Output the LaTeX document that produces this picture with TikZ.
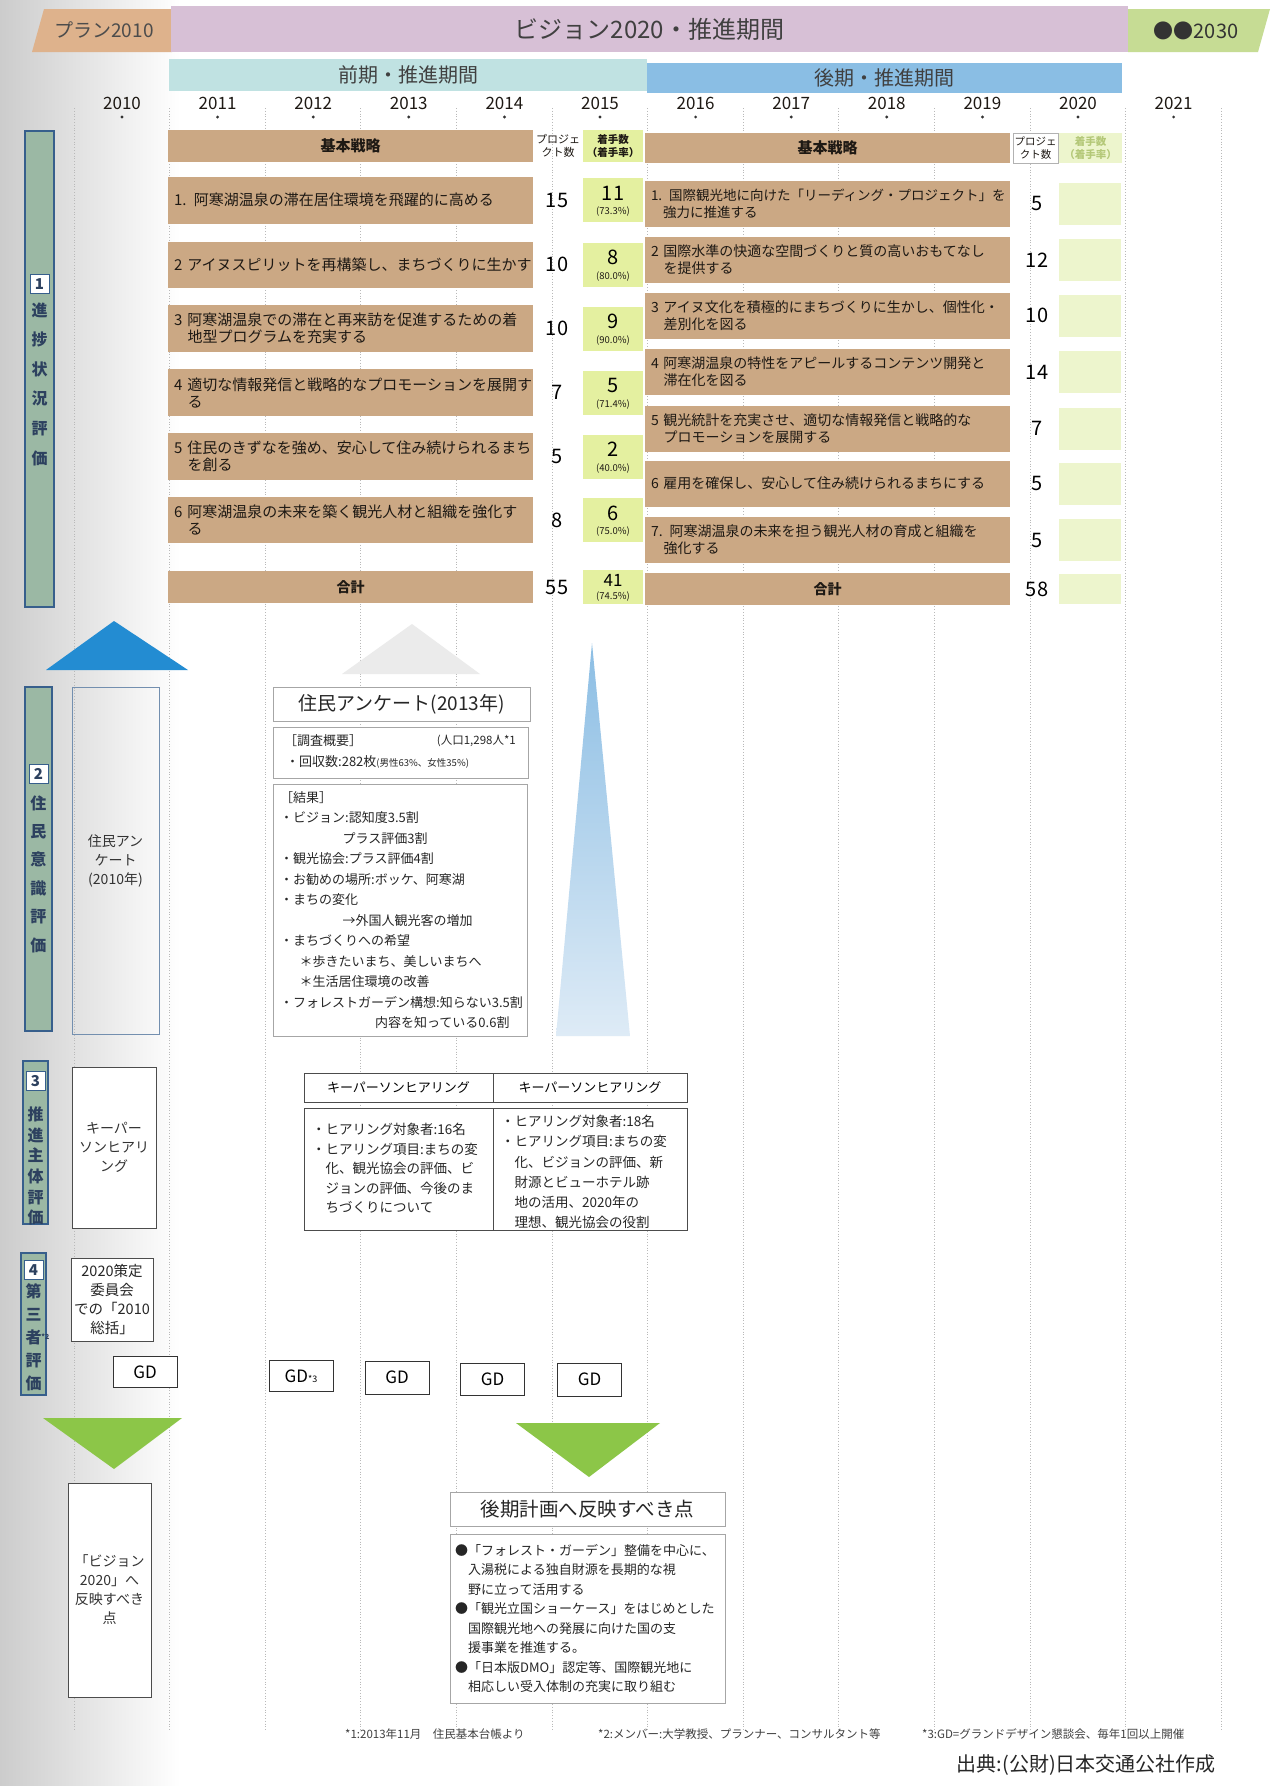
\documentclass[tikz,border=0pt]{standalone}
\usepackage{fontspec}
\setmainfont{Noto Sans CJK JP}
\newcommand\fsz[2]{\fontsize{#1}{#2}\selectfont}
\definecolor{tanc}{RGB}{203,168,132}
\definecolor{lgc}{RGB}{228,240,160}
\definecolor{lgc2}{RGB}{237,245,205}
\definecolor{fgc}{RGB}{180,200,120}
\definecolor{hdrorange}{RGB}{222,178,140}
\definecolor{hdrpink}{RGB}{215,192,214}
\definecolor{hdrgreen}{RGB}{198,220,148}
\definecolor{tealc}{RGB}{192,226,226}
\definecolor{bluec}{RGB}{138,190,228}
\definecolor{lblfill}{RGB}{155,184,164}
\definecolor{lblborder}{RGB}{55,95,140}
\definecolor{lbltext}{RGB}{45,65,95}
\definecolor{tribl}{RGB}{35,140,210}
\definecolor{trigr}{RGB}{140,198,72}
\definecolor{txtc}{RGB}{30,25,20}
\definecolor{spiketop}{RGB}{140,190,228}
\definecolor{spikebot}{RGB}{222,235,246}
\begin{document}
\begin{tikzpicture}[x=1pt,y=-1pt,
  tanbox/.style={fill=tanc, inner xsep=6pt, inner ysep=0pt, minimum width=365pt, text width=353pt, align=left, font=\fsz{15}{17}, text=txtc},
  tanboxR/.style={tanbox, font=\fsz{14}{17}},
  tanhead/.style={fill=tanc, minimum width=365pt, inner sep=0pt, font=\bfseries\fsz{15}{15}, text=txtc},
  grcell/.style={fill=lgc, minimum width=60pt, minimum height=44pt, inner sep=0pt},
  grcellR/.style={fill=lgc2, minimum width=62pt, minimum height=42pt, inner sep=0pt},
  bignum/.style={font=\fsz{20}{20}, text=black, inner sep=0pt},
  pct/.style={font=\fsz{9.5}{10}, text=txtc, inner sep=0pt},
  yearlbl/.style={font=\fsz{17}{17}, text=txtc, inner sep=0pt},
  vline/.style={gray!55, dotted, line width=0.8pt},
  lblbox/.style={fill=lblfill, draw=lblborder, line width=1.2pt, inner sep=0pt},
  lblnum/.style={fill=white, draw=lblborder, line width=1pt, minimum size=19pt, inner sep=0pt, font=\bfseries\fsz{15}{15}, text=lbltext},
  lbltxt/.style={align=center, font=\bfseries\fsz{16}{#1}, text=lbltext, inner sep=0pt},
  wbox/.style={draw=gray!70, fill=white, line width=0.8pt, inner sep=0pt},
  kbox/.style={draw=black!70, fill=white, line width=0.9pt, inner sep=0pt},
  gdbox/.style={draw=black!80, fill=white, line width=1pt, minimum width=64pt, minimum height=31pt, font=\fsz{17}{17}, inner sep=0pt},
  bodytxt/.style={align=left, inner sep=0pt, anchor=north west, text=black!85},
  foot/.style={font=\fsz{11.5}{11.5}, text=black!75, inner sep=0pt, anchor=west}
]
\useasboundingbox (0,0) rectangle (1272,1786);
\fill[white] (0,0) rectangle (1272,1786);
\shade[left color=gray!40, right color=white] (0,0) rectangle (180,1786);

% vertical dotted grid
\foreach \k in {0,...,12} \draw[vline] ({74+95.6*\k},108) -- ({74+95.6*\k},1730);

% header bands
\fill[hdrorange] (44,9) -- (172,9) -- (172,52) -- (32,52) -- cycle;
\node[font=\fsz{19}{19}, text=black!70, inner sep=0pt] (plan) at (104,30) {プラン2010};
\node[fill=hdrpink, minimum width=957pt, minimum height=46pt, inner sep=0pt, font=\fsz{24}{24}, text=black!75] (vision) at (649.5,29) {ビジョン2020・推進期間};
\fill[hdrgreen] (1128,9) -- (1270,9) -- (1258,52) -- (1128,52) -- cycle;
\node[font=\fsz{20}{20}, text=black!80, inner sep=0pt] (v2030) at (1196,31) {●●2030};

\node[fill=tealc, minimum width=478pt, minimum height=32pt, inner sep=0pt, font=\fsz{20}{20}, text=black!75] (zenki) at (408,75) {前期・推進期間};
\node[fill=bluec, minimum width=475pt, minimum height=30pt, inner sep=0pt, font=\fsz{20}{20}, text=black!75] (kouki) at (884.5,78) {後期・推進期間};

% years
\foreach \yr [count=\k from 0] in {2010,...,2021} {
  \node[yearlbl] (y\yr) at ({122+95.6*\k},103) {\yr};
  \fill[black!80] ({122+95.6*\k},117) circle (1.6);
}

% ===== left table =====
\node[tanhead, minimum height=32pt] (Lh) at (350.5,146) {基本戦略};
\node[font=\fsz{11}{13}, align=center, inner sep=0pt, text=txtc] (Lhp) at (558,146) {プロジェ\\クト数};
\node[grcell, minimum height=32pt, align=center, font=\bfseries\fsz{10.5}{13}, text=txtc] (Lhg) at (613,146) {着手数\\（着手率）};

\node[tanbox, minimum height=47pt] (L1) at (350.5,200) {1. 阿寒湖温泉の滞在居住環境を飛躍的に高める};
\node[tanbox, minimum height=46pt] (L2) at (350.5,264.5) {2 アイヌスピリットを再構築し、まちづくりに生かす};
\node[tanbox, minimum height=47pt] (L3) at (350.5,328.5) {3 阿寒湖温泉での滞在と再来訪を促進するための着\\\hspace*{0.9em}地型プログラムを充実する};
\node[tanbox, minimum height=47pt] (L4) at (350.5,392.5) {4 適切な情報発信と戦略的なプロモーションを展開す\\\hspace*{0.9em}る};
\node[tanbox, minimum height=47pt] (L5) at (350.5,456.5) {5 住民のきずなを強め、安心して住み続けられるまち\\\hspace*{0.9em}を創る};
\node[tanbox, minimum height=46pt] (L6) at (350.5,520) {6 阿寒湖温泉の未来を築く観光人材と組織を強化す\\\hspace*{0.9em}る};
\node[tanhead, minimum height=32pt, font=\bfseries\fsz{14}{14}] (Lt) at (350.5,587) {合計};

\foreach \i/\y/\n/\a/\p in {1/200/15/11/73.3, 2/264.5/10/8/80.0, 3/328.5/10/9/90.0, 4/392.5/7/5/71.4, 5/456.5/5/2/40.0, 6/520/8/6/75.0} {
  \node[bignum] (L\i n) at (557,\y) {\n};
  \node[grcell] (L\i g) at (613,\y) {};
  \node[bignum] (L\i a) at (613,\y-7) {\a};
  \node[pct] (L\i p) at (613,\y+12) {(\p\%)};
}
\node[bignum] (Ltn) at (557,587) {55};
\node[grcell, minimum height=34pt] (Ltg) at (613,587) {};
\node[bignum, font=\fsz{17}{17}] (Lta) at (613,580) {41};
\node[pct] (Ltp) at (613,597) {(74.5\%)};

% ===== right table =====
\node[tanhead, minimum height=30pt] (Rh) at (827.5,148) {基本戦略};
\node[draw=gray!60, fill=white, minimum width=45pt, minimum height=30pt, font=\fsz{10.5}{12.5}, align=center, inner sep=0pt, text=txtc] (Rhp) at (1035.5,148) {プロジェ\\クト数};
\node[fill=lgc2, minimum width=63pt, minimum height=30pt, align=center, font=\bfseries\fsz{10.5}{12.5}, text=fgc, inner sep=0pt] (Rhg) at (1090.5,148) {着手数\\（着手率）};

\node[tanboxR, minimum height=46pt, font=\fsz{13.5}{17}] (R1) at (827.5,203.5) {1. 国際観光地に向けた「リーディング・プロジェクト」を\\\hspace*{0.9em}強力に推進する};
\node[tanboxR, minimum height=46pt] (R2) at (827.5,260) {2 国際水準の快適な空間づくりと質の高いおもてなし\\\hspace*{0.9em}を提供する};
\node[tanboxR, minimum height=46pt] (R3) at (827.5,315.5) {3 アイヌ文化を積極的にまちづくりに生かし、個性化・\\\hspace*{0.9em}差別化を図る};
\node[tanboxR, minimum height=46pt] (R4) at (827.5,372) {4 阿寒湖温泉の特性をアピールするコンテンツ開発と\\\hspace*{0.9em}滞在化を図る};
\node[tanboxR, minimum height=46pt] (R5) at (827.5,428.5) {5 観光統計を充実させ、適切な情報発信と戦略的な\\\hspace*{0.9em}プロモーションを展開する};
\node[tanboxR, minimum height=46pt] (R6) at (827.5,483.5) {6 雇用を確保し、安心して住み続けられるまちにする};
\node[tanboxR, minimum height=46pt] (R7) at (827.5,540) {7. 阿寒湖温泉の未来を担う観光人材の育成と組織を\\\hspace*{0.9em}強化する};
\node[tanhead, minimum height=32pt, font=\bfseries\fsz{14}{14}] (Rt) at (827.5,589) {合計};

\foreach \i/\y/\n in {1/203.5/5, 2/260/12, 3/315.5/10, 4/372/14, 5/428.5/7, 6/483.5/5, 7/540/5} {
  \node[bignum] (R\i n) at (1037,\y) {\n};
  \node[grcellR] (R\i g) at (1090,\y) {};
}
\node[bignum] (Rtn) at (1037,589) {58};
\node[grcellR, minimum height=30pt] (Rtg) at (1090,589) {};

% ===== left category labels =====
\node[lblbox, minimum width=29pt, minimum height=476pt] (c1) at (39.5,369) {};
\node[lblnum] (c1n) at (39.5,284) {1};
\node[lbltxt=29.6] (c1t) at (39.5,384) {進\\捗\\状\\況\\評\\価};

\node[lblbox, minimum width=27pt, minimum height=344pt] (c2) at (38.5,859) {};
\node[lblnum] (c2n) at (38.5,774) {2};
\node[lbltxt=28.4] (c2t) at (38.5,874) {住\\民\\意\\識\\評\\価};

\node[lblbox, minimum width=25pt, minimum height=163pt] (c3) at (35.5,1142.5) {};
\node[lblnum] (c3n) at (35.5,1081) {3};
\node[lbltxt=20.6] (c3t) at (35.5,1166) {推\\進\\主\\体\\評\\価};

\node[lblbox, minimum width=25pt, minimum height=142pt] (c4) at (33.5,1324) {};
\node[lblnum] (c4n) at (33.5,1270) {4};
\node[lbltxt=23] (c4t) at (33.5,1337) {第\\三\\者\rlap{\raisebox{4pt}{\fsz{7}{7}*2}}\\評\\価};

% blue up arrow head
\fill[tribl] (46,670) -- (188,670) -- (114,621) -- cycle;

% faded gray shape above survey
\fill[gray!16] (342,674) -- (412,624) -- (480,674) -- cycle;

% blue spike
\shade[top color=spiketop, bottom color=spikebot] (592,643) -- (630,1036) -- (556,1036) -- cycle;

% ===== 2010 column boxes =====
\node[draw=lblborder!70, line width=1pt, minimum width=87pt, minimum height=347pt, inner sep=0pt, align=center, font=\fsz{14}{19}, text=black!80] (a2010) at (115.5,860.5) {住民アン\\ケート\\(2010年)};
\node[kbox, minimum width=84pt, minimum height=161pt, align=center, font=\fsz{14}{19}, text=black!80] (k2010) at (114,1147.5) {キーパー\\ソンヒアリ\\ング};
\node[kbox, minimum width=82pt, minimum height=83pt, align=center, font=\fsz{14.5}{19}, text=black!85] (s2010) at (112,1299.5) {2020策定\\委員会\\での「2010\\総括」};
\node[kbox, minimum width=83pt, minimum height=214pt, align=center, font=\fsz{14}{19}, text=black!80] (r2010) at (109.5,1590) {「ビジョン\\2020」へ\\反映すべき\\点};

% GD boxes
\node[gdbox] (gd1) at (145,1372) {GD};
\node[gdbox] (gd2) at (301,1376) {GD{\fsz{9}{9}*3}};
\node[gdbox, minimum height=33pt] (gd3) at (397,1377.5) {GD};
\node[gdbox, minimum height=32pt] (gd4) at (492.5,1379) {GD};
\node[gdbox, minimum height=33pt] (gd5) at (589.5,1379.5) {GD};

% green down arrow heads
\fill[trigr] (43,1418) -- (182,1418) -- (114,1469) -- cycle;
\fill[trigr] (516,1423) -- (660,1423) -- (589,1477) -- cycle;

% ===== survey 2013 =====
\node[wbox, minimum width=257pt, minimum height=34pt, font=\fsz{19}{19}, text=black!85] (svt) at (401.5,704) {住民アンケート(2013年)};
\node[wbox, minimum width=255pt, minimum height=51pt] (svs) at (400.5,752.5) {};
\node[bodytxt, anchor=west, font=\fsz{13}{13}] (svs1) at (284,741) {［調査概要］};
\node[anchor=east, inner sep=0pt, font=\fsz{11.5}{12}, text=black!85] (svs2) at (516,741) {(人口1,298人*1};
\node[bodytxt, anchor=west, font=\fsz{13}{13}] (svs3) at (286,762) {・回収数:282枚{\fsz{9.5}{10}(男性63\%、女性35\%)}};
\node[wbox, minimum width=254pt, minimum height=252pt] (svr) at (400,910) {};
\node[bodytxt, font=\fsz{13}{20.5}] (svrt) at (280,791) {［結果］\\
・ビジョン:認知度3.5割\\
\hspace*{4.8em}プラス評価3割\\
・観光協会:プラス評価4割\\
・お勧めの場所:ボッケ、阿寒湖\\
・まちの変化\\
\hspace*{4.8em}→外国人観光客の増加\\
・まちづくりへの希望\\
\hspace*{1.5em}＊歩きたいまち、美しいまちへ\\
\hspace*{1.5em}＊生活居住環境の改善\\
・フォレストガーデン構想:知らない3.5割\\
\hspace*{7.3em}内容を知っている0.6割};

% ===== key person hearings =====
\node[kbox, minimum width=189pt, minimum height=29pt, font=\fsz{13}{13}] (kh1) at (398.5,1087.5) {キーパーソンヒアリング};
\node[kbox, minimum width=194pt, minimum height=29pt, font=\fsz{13}{13}] (kh2) at (590,1087.5) {キーパーソンヒアリング};
\node[kbox, minimum width=189pt, minimum height=122pt] (kb1) at (398.5,1169) {};
\node[kbox, minimum width=194pt, minimum height=122pt] (kb2) at (590,1169) {};
\node[bodytxt, font=\fsz{13.5}{19.5}] (kb1t) at (312,1123) {・ヒアリング対象者:16名\\
・ヒアリング項目:まちの変\\
\hspace*{1em}化、観光協会の評価、ビ\\
\hspace*{1em}ジョンの評価、今後のま\\
\hspace*{1em}ちづくりについて};
\node[bodytxt, font=\fsz{13.5}{20.2}] (kb2t) at (501,1115) {・ヒアリング対象者:18名\\
・ヒアリング項目:まちの変\\
\hspace*{1em}化、ビジョンの評価、新\\
\hspace*{1em}財源とビューホテル跡\\
\hspace*{1em}地の活用、2020年の\\
\hspace*{1em}理想、観光協会の役割};

% ===== points for latter plan =====
\node[wbox, minimum width=275pt, minimum height=34pt, font=\fsz{19.5}{19.5}, text=black!85] (btt) at (587.5,1509) {後期計画へ反映すべき点};
\node[wbox, minimum width=275pt, minimum height=169pt] (btb) at (587.5,1618.5) {};
\node[bodytxt, font=\fsz{13}{19.5}] (btbt) at (455,1544) {●「フォレスト・ガーデン」整備を中心に、\\
\hspace*{1em}入湯税による独自財源を長期的な視\\
\hspace*{1em}野に立って活用する\\
●「観光立国ショーケース」をはじめとした\\
\hspace*{1em}国際観光地への発展に向けた国の支\\
\hspace*{1em}援事業を推進する。\\
●「日本版DMO」認定等、国際観光地に\\
\hspace*{1em}相応しい受入体制の充実に取り組む};

% ===== footnotes =====
\node[foot] (f1) at (345,1734) {*1:2013年11月\quad 住民基本台帳より};
\node[foot] (f2) at (598,1734) {*2:メンバー:大学教授、プランナー、コンサルタント等};
\node[foot] (f3) at (922,1734) {*3:GD=グランドデザイン懇談会、毎年1回以上開催};
\node[font=\fsz{20}{20}, anchor=east, inner sep=0pt, text=black!85] (src) at (1216,1765) {出典:(公財)日本交通公社作成};
\end{tikzpicture}
\end{document}
